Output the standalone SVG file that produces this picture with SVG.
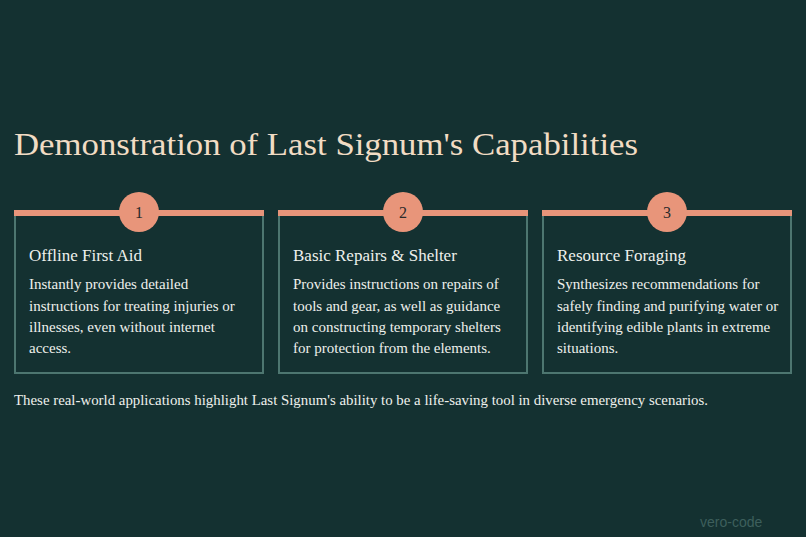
<svg xmlns="http://www.w3.org/2000/svg" width="806" height="537" viewBox="0 0 806 537">
<style>
.t{font-family:"Liberation Serif",serif;fill:#f1dcc4}
.h{font-family:"Liberation Serif",serif;font-size:17px;fill:#eef0ec}
.b{font-family:"Liberation Serif",serif;font-size:15px;fill:#eef0ec}
.box{fill:none;stroke:#4d7670;stroke-width:2}
.bar{fill:#e8957a}
.n{font-family:"Liberation Serif",serif;font-size:16px;fill:#2a2a2a;text-anchor:middle}
</style>
<rect width="806" height="537" fill="#143131"/>
<text class="t" x="14" y="155" font-size="32" textLength="624" lengthAdjust="spacingAndGlyphs">Demonstration of Last Signum's Capabilities</text>
<g id="card1">
<rect class="box" x="15" y="212" width="248" height="161"/>
<rect class="bar" x="14" y="210" width="250" height="6"/>
<circle class="bar" cx="139" cy="212" r="20"/>
<text class="n" x="139" y="218">1</text>
<text class="h" x="29" y="261">Offline First Aid</text>
<text class="b" x="29" y="289">Instantly provides detailed</text>
<text class="b" x="29" y="311">instructions for treating injuries or</text>
<text class="b" x="29" y="332">illnesses, even without internet</text>
<text class="b" x="29" y="353">access.</text>
</g>
<g id="card2">
<rect class="box" x="279" y="212" width="248" height="161"/>
<rect class="bar" x="278" y="210" width="250" height="6"/>
<circle class="bar" cx="403" cy="212" r="20"/>
<text class="n" x="403" y="218">2</text>
<text class="h" x="293" y="261">Basic Repairs &amp; Shelter</text>
<text class="b" x="293" y="289">Provides instructions on repairs of</text>
<text class="b" x="293" y="311">tools and gear, as well as guidance</text>
<text class="b" x="293" y="332">on constructing temporary shelters</text>
<text class="b" x="293" y="353">for protection from the elements.</text>
</g>
<g id="card3">
<rect class="box" x="543" y="212" width="248" height="161"/>
<rect class="bar" x="542" y="210" width="250" height="6"/>
<circle class="bar" cx="667" cy="212" r="20"/>
<text class="n" x="667" y="218">3</text>
<text class="h" x="557" y="261">Resource Foraging</text>
<text class="b" x="557" y="289">Synthesizes recommendations for</text>
<text class="b" x="557" y="311">safely finding and purifying water or</text>
<text class="b" x="557" y="332">identifying edible plants in extreme</text>
<text class="b" x="557" y="353">situations.</text>
</g>
<g id="connectors"/>
<text class="b" x="14" y="405" textLength="694" lengthAdjust="spacingAndGlyphs">These real-world applications highlight Last Signum's ability to be a life-saving tool in diverse emergency scenarios.</text>
<text x="700" y="527" font-family="Liberation Sans,sans-serif" font-size="14" fill="#3d5f5c">vero-code</text>
</svg>
